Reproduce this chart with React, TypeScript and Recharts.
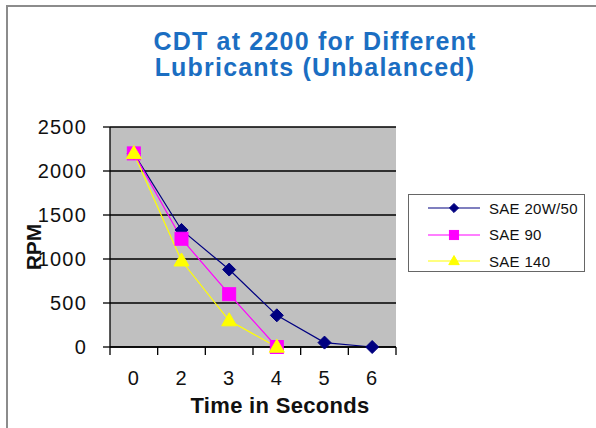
import React from 'react';
import { LineChart, Line, XAxis, YAxis, CartesianGrid } from 'recharts';

const timeLabels = ['0', '2', '3', '4', '5', '6'];
const sae2050 = [2200, 1330, 880, 360, 50, 0];
const sae90 = [2200, 1230, 600, 0, null, null];
const sae140 = [2200, 980, 300, 0, null, null];
const yTicks = [0, 500, 1000, 1500, 2000, 2500];
const seriesNames = ['SAE 20W/50', 'SAE 90', 'SAE 140'];

const data = timeLabels.map((t, i) => ({
  time: t,
  s1: sae2050[i],
  s2: sae90[i],
  s3: sae140[i],
}));

const W = 596;
const H = 428;
const MARGIN = { top: 127, right: 200, bottom: 0, left: 0 };
const Y_AXIS_W = 110;
const X_AXIS_H = 81;
const PLOT_W = W - MARGIN.left - MARGIN.right - Y_AXIS_W;
const STEP = PLOT_W / timeLabels.length;
const X_TICK_SIZE = 8;
const X_TICK_MARGIN = 16;
const FONT = '"Liberation Sans", Arial, sans-serif';

const COLORS = ['#000080', '#FF00FF', '#FFFF00'];
const SHAPES = ['diamond', 'square', 'triangle'];

function Marker({ shape, cx, cy, color, k = 1 }: { shape: string; cx: number; cy: number; color: string; k?: number }) {
  if (shape === 'diamond') {
    const r = 6.5 * k;
    return <path d={`M${cx},${cy - r}L${cx + r},${cy}L${cx},${cy + r}L${cx - r},${cy}Z`} fill={color} stroke={color} />;
  }
  if (shape === 'square') {
    const s = 6.5 * k;
    return <rect x={cx - s} y={cy - s} width={2 * s} height={2 * s} fill={color} stroke={color} />;
  }
  const w = 7.5 * k;
  const h = 13 * k;
  return <path d={`M${cx},${cy - h * 0.6}L${cx + w},${cy + h * 0.4}L${cx - w},${cy + h * 0.4}Z`} fill={color} stroke={color} />;
}

const makeDot = (idx: number) => (props: any) => {
  const { cx, cy, value, index } = props;
  if (value === null || value === undefined || cx == null || cy == null) {
    return <g key={`d${idx}-${index}`} />;
  }
  return (
    <g key={`d${idx}-${index}`}>
      <Marker shape={SHAPES[idx]} cx={cx} cy={cy} color={COLORS[idx]} />
    </g>
  );
};

const XTick = (props: any) => {
  const { x, y, payload, index } = props;
  const axisY = y - X_TICK_SIZE - X_TICK_MARGIN;
  const left = x - STEP / 2;
  const right = x + STEP / 2;
  return (
    <g>
      <line x1={left} x2={left} y1={axisY} y2={axisY + X_TICK_SIZE} stroke="#000" strokeWidth={1.3} />
      {index === timeLabels.length - 1 && (
        <line x1={right} x2={right} y1={axisY} y2={axisY + X_TICK_SIZE} stroke="#000" strokeWidth={1.3} />
      )}
      <text x={x} y={y} dy="0.71em" textAnchor="middle" fill="#111" fontSize={20} fontFamily={FONT} letterSpacing={1}>
        {payload.value}
      </text>
    </g>
  );
};

const LegendBox = () => (
  <div
    style={{
      position: 'absolute',
      left: 408,
      top: 194,
      width: 177,
      height: 78,
      border: '1.5px solid #666',
      boxSizing: 'border-box',
      background: '#fff',
      fontFamily: FONT,
    }}
  >
    {seriesNames.map((name, i) => (
      <div key={name} style={{ position: 'absolute', left: 0, top: 13 + i * 26.5 - 10, height: 20, display: 'flex', alignItems: 'center' }}>
        <svg width={80} height={20} style={{ display: 'block' }}>
          <line x1={19} x2={71} y1={10} y2={10} stroke={COLORS[i]} strokeWidth={1.2} />
          <Marker shape={SHAPES[i]} cx={45} cy={10} color={COLORS[i]} k={0.7} />
        </svg>
        <span style={{ fontSize: 15, color: '#111', whiteSpace: 'nowrap', letterSpacing: 0.3 }}>{name}</span>
      </div>
    ))}
  </div>
);

export default function App() {
  return (
    <div style={{ position: 'absolute', left: 0, top: 0, width: W, height: H, overflow: 'hidden', background: '#fff', fontFamily: FONT }}>
      <div style={{ position: 'absolute', left: 6, top: 5, width: 640, height: 480, border: '2px solid #8c8c8c' }} />
      <div
        style={{
          position: 'absolute',
          left: 15,
          top: 28,
          width: 600,
          textAlign: 'center',
          color: '#1B6EC2',
          fontWeight: 'bold',
          fontSize: 25,
          lineHeight: '26px',
          letterSpacing: 1.2,
          fontFamily: FONT,
        }}
      >
        <div>CDT at 2200 for Different</div>
        <div>Lubricants (Unbalanced)</div>
      </div>
      <div style={{ position: 'absolute', left: 0, top: 0 }}>
        <LineChart width={W} height={H} data={data} margin={MARGIN}>
          <CartesianGrid vertical={false} fill="#C0C0C0" stroke="#000" strokeWidth={1.5} />
          <XAxis
            dataKey="time"
            type="category"
            height={X_AXIS_H}
            padding={{ left: STEP / 2, right: STEP / 2 }}
            axisLine={{ stroke: '#000', strokeWidth: 1.3 }}
            tickLine={false}
            tickSize={X_TICK_SIZE}
            tickMargin={X_TICK_MARGIN}
            tick={<XTick />}
            interval={0}
            label={(p: any) => {
              const vb = p.viewBox;
              return (
                <text
                  x={vb.x + vb.width / 2 + 27}
                  y={vb.y + 66}
                  textAnchor="middle"
                  fontWeight="bold"
                  fontSize={22}
                  fontFamily={FONT}
                  fill="#111"
                  letterSpacing={0.3}
                >
                  Time in Seconds
                </text>
              );
            }}
          />
          <YAxis
            width={Y_AXIS_W}
            domain={[0, 2500]}
            ticks={yTicks}
            interval={0}
            axisLine={{ stroke: '#000', strokeWidth: 1.3 }}
            tickLine={{ stroke: '#000', strokeWidth: 1.3 }}
            tickSize={7}
            tickMargin={16}
            tick={{ fill: '#111', fontSize: 20, fontFamily: FONT, letterSpacing: 1.2 } as any}
            label={(p: any) => {
              const vb = p.viewBox;
              const cx = vb.x + 33;
              const cy = vb.y + vb.height / 2 + 10;
              return (
                <text
                  x={cx}
                  y={cy}
                  textAnchor="middle"
                  dominantBaseline="central"
                  transform={`rotate(-90, ${cx}, ${cy})`}
                  fontWeight="bold"
                  fontSize={21}
                  fontFamily={FONT}
                  fill="#111"
                >
                  RPM
                </text>
              );
            }}
          />
          <Line dataKey="s1" name={seriesNames[0]} stroke={COLORS[0]} strokeWidth={1.2} dot={makeDot(0)} activeDot={false} isAnimationActive={false} connectNulls={false} />
          <Line dataKey="s2" name={seriesNames[1]} stroke={COLORS[1]} strokeWidth={1.2} dot={makeDot(1)} activeDot={false} isAnimationActive={false} connectNulls={false} />
          <Line dataKey="s3" name={seriesNames[2]} stroke={COLORS[2]} strokeWidth={1.2} dot={makeDot(2)} activeDot={false} isAnimationActive={false} connectNulls={false} />
        </LineChart>
      </div>
      <LegendBox />
    </div>
  );
}
